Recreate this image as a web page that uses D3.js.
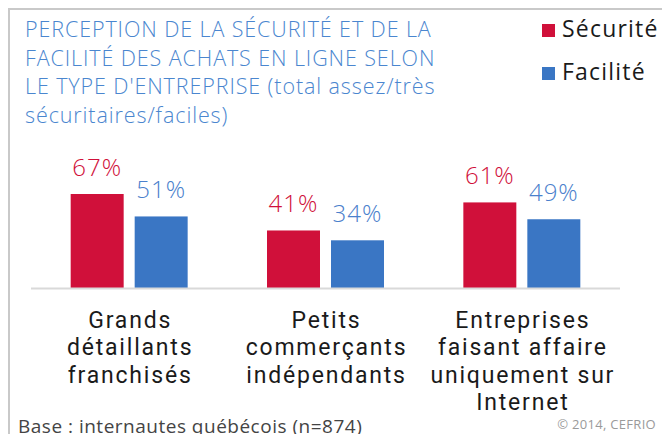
<!DOCTYPE html>
<html>
<head>
<meta charset="utf-8">
<script src="https://cdn.jsdelivr.net/npm/d3@7"></script>
<style>
  body { margin: 0; background: #fff; }
  svg { display: block; font-family: 'Open Sans', sans-serif; }
</style>
</head>
<body>
<svg id="chart"></svg>
<script>
const width = 662, height = 434;

// Data
const categories = [
  ['Grands', 'détaillants', 'franchisés'],
  ['Petits', 'commerçants', 'indépendants'],
  ['Entreprises', 'faisant affaire', 'uniquement sur', 'Internet']
];
const series = ['Sécurité', 'Facilité'];
const securite = [67, 41, 61];
const facilite = [51, 34, 49];
const title_lines = [
  'PERCEPTION DE LA SÉCURITÉ ET DE LA',
  'FACILITÉ DES ACHATS EN LIGNE SELON',
  'LE TYPE D\'ENTREPRISE (total assez/très',
  'sécuritaires/faciles)'
];

const colors = { 'Sécurité': '#d0103a', 'Facilité': '#3a76c4' };
const label_colors = { 'Sécurité': '#d0103a', 'Facilité': '#4a80cc' };

const svg = d3.select('#chart')
  .attr('width', width)
  .attr('height', height);

// Frame (top + left)
svg.append('path')
  .attr('d', `M9,${height} V9 H${width}`)
  .attr('fill', 'none')
  .attr('stroke', '#c9c9c9')
  .attr('stroke-width', 2);

// Title
svg.append('g')
  .selectAll('text')
  .data(title_lines)
  .enter()
  .append('text')
  .attr('x', 25)
  .attr('y', (_, i) => 37 + i * 28.7)
  .attr('fill', '#4a86cf')
  .attr('font-size', 21.5)
  .attr('font-weight', 300)
  .attr('letter-spacing', 0.9)
  .text(d => d);

// Legend
const legend = svg.append('g')
  .selectAll('g')
  .data(series)
  .enter()
  .append('g')
  .attr('transform', (_, i) => `translate(542,${24 + i * 43})`);

legend.append('rect')
  .attr('width', 13)
  .attr('height', 13)
  .attr('fill', d => colors[d]);

legend.append('text')
  .attr('x', 20)
  .attr('y', 13)
  .attr('font-size', 23)
  .attr('letter-spacing', 1.2)
  .attr('fill', '#1a1a1a')
  .text(d => d);

// Scales
const x0 = d3.scaleBand()
  .domain(d3.range(categories.length))
  .range([31, 620]);

const x1 = d3.scaleBand()
  .domain(series)
  .range([0, x0.bandwidth()])
  .paddingInner(0.172)
  .paddingOuter(0.62);

const y = d3.scaleLinear()
  .domain([0, 100])
  .range([288, 147.7]);

const rows = d3.range(categories.length).map(i => ({
  i,
  values: [
    { key: 'Sécurité', value: securite[i] },
    { key: 'Facilité', value: facilite[i] }
  ]
}));

const group = svg.append('g')
  .selectAll('g')
  .data(rows)
  .enter()
  .append('g')
  .attr('transform', d => `translate(${x0(d.i)},0)`);

group.selectAll('rect')
  .data(d => d.values)
  .enter()
  .append('rect')
  .attr('x', d => x1(d.key))
  .attr('y', d => y(d.value))
  .attr('width', x1.bandwidth())
  .attr('height', d => y(0) - y(d.value))
  .attr('fill', d => colors[d.key]);

group.selectAll('.value')
  .data(d => d.values)
  .enter()
  .append('text')
  .attr('class', 'value')
  .attr('x', d => x1(d.key) + x1.bandwidth() / 2)
  .attr('y', d => y(d.value) - 18)
  .attr('text-anchor', 'middle')
  .attr('font-size', 24)
  .attr('font-weight', 300)
  .attr('letter-spacing', 1)
  .attr('fill', d => label_colors[d.key])
  .text(d => `${d.value}%`);

// Baseline
svg.append('line')
  .attr('x1', 31)
  .attr('x2', 620)
  .attr('y1', y(0) + 0.5)
  .attr('y2', y(0) + 0.5)
  .attr('stroke', '#d9d9d9')
  .attr('stroke-width', 2);

// Category labels (Roboto: tighter line box, lines sit 27px apart)
const cat = svg.append('g')
  .selectAll('text')
  .data(categories)
  .enter()
  .append('text')
  .attr('text-anchor', 'middle')
  .attr('font-family', 'Roboto, sans-serif')
  .attr('font-size', 23)
  .attr('letter-spacing', 1.8)
  .attr('fill', '#1a1a1a');

cat.selectAll('tspan')
  .data((d, i) => d.map(line => ({ line, i })))
  .enter()
  .append('tspan')
  .attr('x', d => x0(d.i) + x0.bandwidth() / 2 + 1)
  .attr('y', (_, j) => 328 + j * 27.3)
  .text(d => d.line);

// Footer
svg.append('text')
  .attr('x', 18)
  .attr('y', 433)
  .attr('font-size', 19)
  .attr('letter-spacing', 0.5)
  .attr('fill', '#444')
  .text('Base : internautes québécois (n=874)');

svg.append('text')
  .attr('x', 656)
  .attr('y', 429)
  .attr('text-anchor', 'end')
  .attr('font-size', 13)
  .attr('letter-spacing', 0.3)
  .attr('fill', '#9a9a9a')
  .text('© 2014, CEFRIO');
</script>
</body>
</html>
